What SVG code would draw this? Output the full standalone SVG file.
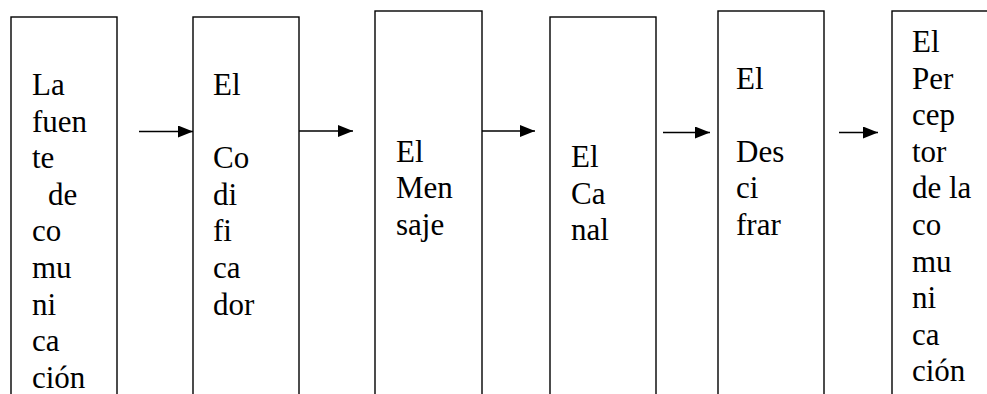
<svg xmlns="http://www.w3.org/2000/svg" width="987" height="394" viewBox="0 0 987 394">
<style>
.box{fill:#fff;stroke:#000;stroke-width:1.4}
.c{stroke:#000;stroke-width:1.5;fill:none}
</style>
<defs>
<marker id="ah" markerWidth="16" markerHeight="12" refX="15" refY="6" orient="auto" markerUnits="userSpaceOnUse">
<path d="M0,0 L15,6 L0,12 Z" fill="#000"/>
</marker>
</defs>
<rect width="987" height="394" fill="#fff"/>
<g id="n1">
<rect class="box" x="11" y="17" width="106" height="400"/>
<g font-family="Liberation Serif, Times New Roman, serif" font-size="31"><text x="32" y="95">La</text><text x="32" y="131.6">fuen</text><text x="32" y="168.2">te</text><text x="48" y="204.8">de</text><text x="32" y="241.4">co</text><text x="32" y="278">mu</text><text x="32" y="314.6">ni</text><text x="32" y="351.2">ca</text><text x="32" y="387.8">ción</text></g>
</g>
<g id="n2">
<rect class="box" x="193" y="17" width="106" height="400"/>
<g font-family="Liberation Serif, Times New Roman, serif" font-size="31"><text x="213" y="95">El</text><text x="213" y="168.2">Co</text><text x="213" y="204.8">di</text><text x="213" y="241.4">fi</text><text x="213" y="278">ca</text><text x="213" y="314.6">dor</text></g>
</g>
<g id="n3">
<rect class="box" x="375" y="11" width="107" height="410"/>
<g font-family="Liberation Serif, Times New Roman, serif" font-size="31"><text x="396" y="162">El</text><text x="396" y="198.4">Men</text><text x="396" y="234.8">saje</text></g>
</g>
<g id="n4">
<rect class="box" x="550" y="17" width="106" height="400"/>
<g font-family="Liberation Serif, Times New Roman, serif" font-size="31"><text x="571" y="167">El</text><text x="571" y="203.6">Ca</text><text x="571" y="240.2">nal</text></g>
</g>
<g id="n5">
<rect class="box" x="718" y="11" width="106" height="410"/>
<g font-family="Liberation Serif, Times New Roman, serif" font-size="31"><text x="736" y="88.5">El</text><text x="736" y="161.7">Des</text><text x="736" y="198.3">ci</text><text x="736" y="234.9">frar</text></g>
</g>
<g id="n6">
<rect class="box" x="892" y="11" width="120" height="410"/>
<g font-family="Liberation Serif, Times New Roman, serif" font-size="31"><text x="912" y="52">El</text><text x="912" y="88.6">Per</text><text x="912" y="125.2">cep</text><text x="912" y="161.8">tor</text><text x="912" y="198.4">de la</text><text x="912" y="235">co</text><text x="912" y="271.6">mu</text><text x="912" y="308.2">ni</text><text x="912" y="344.8">ca</text><text x="912" y="381.4">ción</text></g>
</g>
<g id="connectors">
<line class="c" x1="139" y1="131.5" x2="193" y2="131.5" marker-end="url(#ah)"/>
<line class="c" x1="299" y1="131" x2="353" y2="131" marker-end="url(#ah)"/>
<line class="c" x1="482" y1="131" x2="535" y2="131" marker-end="url(#ah)"/>
<line class="c" x1="663" y1="132.5" x2="710" y2="132.5" marker-end="url(#ah)"/>
<line class="c" x1="839" y1="132.5" x2="878" y2="132.5" marker-end="url(#ah)"/>
</g>
</svg>
